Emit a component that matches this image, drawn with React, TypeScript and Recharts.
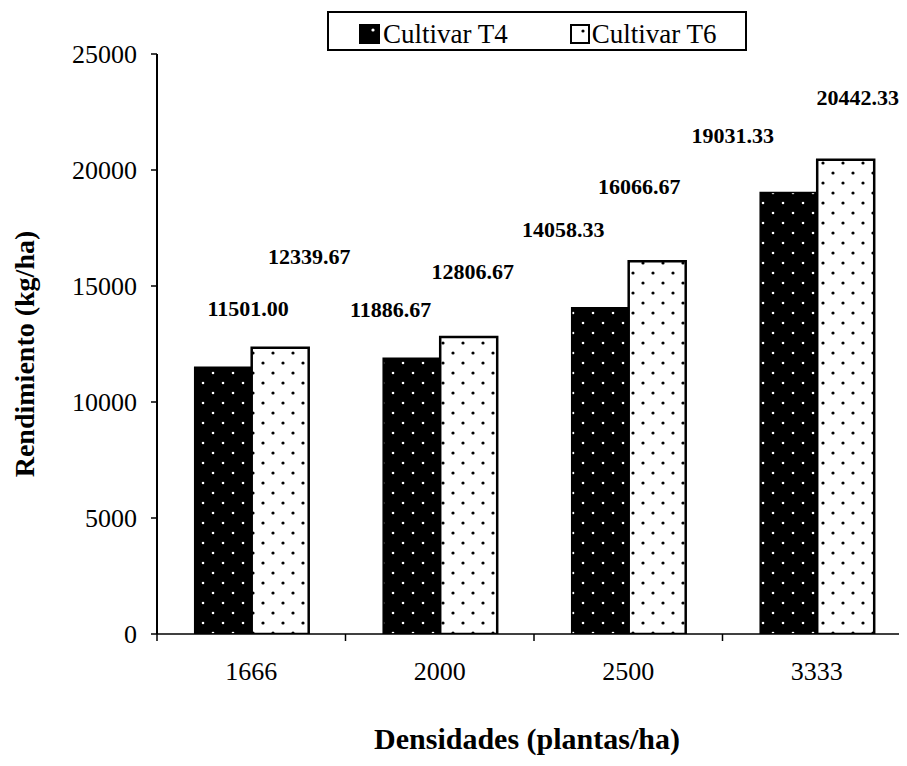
import React from 'react';
import { BarChart, Bar, XAxis, YAxis, Legend, LabelList } from 'recharts';

// Densidades de siembra (plantas/ha) y rendimiento medio (kg/ha)
const densidades = ['1666', '2000', '2500', '3333'];
const cultivarT4 = [11501.0, 11886.67, 14058.33, 19031.33];
const cultivarT6 = [12339.67, 12806.67, 16066.67, 20442.33];
const yTicks = [0, 5000, 10000, 15000, 20000, 25000];
const seriesNames = ['Cultivar T4', 'Cultivar T6'];

// Placement of each value label, relative to the top centre of its bar (px)
const labelShiftT4: [number, number][] = [[25, -59], [-21, -49], [-37, -78], [-56, -57]];
const labelShiftT6: [number, number][] = [[29, -91], [4, -65], [-18, -75], [12, -62]];

const rows = densidades.map((d, i) => ({ densidad: d, t4: cultivarT4[i], t6: cultivarT6[i] }));

const FONT = '"Liberation Serif", "Times New Roman", serif';
const TICK_SIZE = 7;
const TICK_MARGIN = 21;

const makeValueLabel = (shifts: [number, number][]) => (props: any) => {
  const { x, y, width, value, index } = props;
  const [dx, dy] = shifts[index] || [0, -20];
  return (
    <text
      x={Number(x) + Number(width) / 2 + dx}
      y={Number(y) + dy}
      textAnchor="middle"
      dominantBaseline="central"
      fontFamily={FONT}
      fontSize={22}
      fontWeight="bold"
      fill="#000"
    >
      {Number(value).toFixed(2)}
    </text>
  );
};

// Category label with the tick mark drawn on the band's left boundary
const CategoryTick = (props: any) => {
  const { x, y, payload } = props;
  const half = payload && typeof payload.offset === 'number' ? payload.offset : 0;
  const axisY = y - TICK_SIZE - TICK_MARGIN;
  return (
    <g>
      <line x1={x - half} x2={x - half} y1={axisY} y2={axisY + TICK_SIZE} stroke="#000" strokeWidth={1.5} />
      <text x={x} y={y} dy="0.71em" textAnchor="middle" fontFamily={FONT} fontSize={26} fill="#000">
        {payload.value}
      </text>
    </g>
  );
};

const LegendBox = () => (
  <div
    style={{
      boxSizing: 'border-box',
      width: 420,
      height: 40,
      border: '2px solid #000',
      background: '#fff',
      display: 'flex',
      alignItems: 'center',
      paddingLeft: 30,
      paddingTop: 6,
      fontFamily: FONT,
      fontSize: 27,
      color: '#000',
      lineHeight: 1,
    }}
  >
    <svg width={21} height={20} style={{ marginRight: 3 }}>
      <rect x={0.5} y={0.5} width={20} height={19} fill="#000" stroke="#000" />
      <circle cx={14} cy={6} r={1.6} fill="#fff" />
    </svg>
    <span>{seriesNames[0]}</span>
    <svg width={20} height={20} style={{ marginLeft: 62, marginRight: 2 }}>
      <rect x={1} y={1} width={18} height={18} fill="#fff" stroke="#000" strokeWidth={2} />
      <circle cx={13} cy={7} r={1.6} fill="#000" />
    </svg>
    <span>{seriesNames[1]}</span>
  </div>
);

export default function App() {
  return (
    <div style={{ width: 899, height: 750, overflow: 'hidden', background: '#fff' }}>
      <BarChart
        width={910}
        height={750}
        data={rows}
        margin={{ top: 46, right: 7, bottom: 0, left: 0 }}
        barCategoryGap="20%"
        barGap={0}
      >
        <defs>
          <pattern id="dotsDark" patternUnits="userSpaceOnUse" width={20} height={20}>
            <rect width={20} height={20} fill="#000" />
            <circle cx={5} cy={5} r={1.3} fill="#fff" />
            <circle cx={15} cy={15} r={1.3} fill="#fff" />
          </pattern>
          <pattern id="dotsLight" patternUnits="userSpaceOnUse" width={20} height={20}>
            <rect width={20} height={20} fill="#fff" />
            <circle cx={5} cy={5} r={1.6} fill="#000" />
            <circle cx={15} cy={15} r={1.6} fill="#000" />
          </pattern>
        </defs>
        <XAxis
          dataKey="densidad"
          height={124}
          axisLine={{ stroke: '#000', strokeWidth: 1.5 }}
          tickLine={false}
          tickSize={TICK_SIZE}
          tickMargin={TICK_MARGIN}
          tick={<CategoryTick />}
          interval={0}
          label={(p: any) => {
            const vb = p.viewBox || {};
            return (
              <text
                x={vb.x + vb.width / 2 - 7}
                y={vb.y + 104}
                textAnchor="middle"
                dominantBaseline="central"
                fontFamily={FONT}
                fontSize={30}
                fontWeight="bold"
                fill="#000"
              >
                Densidades (plantas/ha)
              </text>
            );
          }}
        />
        <YAxis
          width={149}
          domain={[0, 25000]}
          ticks={yTicks}
          interval={0}
          allowDataOverflow
          axisLine={{ stroke: '#000', strokeWidth: 2 }}
          tickLine={{ stroke: '#000', strokeWidth: 1.5 }}
          tickSize={6}
          tickMargin={14}
          tick={{ fontFamily: FONT, fontSize: 26, fill: '#000' }}
          label={(p: any) => {
            const vb = p.viewBox || {};
            const cx = vb.x + 16;
            const cy = vb.y + vb.height / 2 + 10;
            return (
              <text
                transform={`translate(${cx}, ${cy}) rotate(-90)`}
                textAnchor="middle"
                dominantBaseline="central"
                fontFamily={FONT}
                fontSize={28}
                fontWeight="bold"
                fill="#000"
              >
                Rendimiento (kg/ha)
              </text>
            );
          }}
        />
        <Legend
          layout="horizontal"
          verticalAlign="middle"
          align="center"
          wrapperStyle={{ top: 3, left: 319, width: 420, height: 40 }}
          content={() => <LegendBox />}
        />
        <Bar dataKey="t4" name={seriesNames[0]} fill="url(#dotsDark)" stroke="#000" strokeWidth={1.5} isAnimationActive={false}>
          <LabelList dataKey="t4" content={makeValueLabel(labelShiftT4)} />
        </Bar>
        <Bar dataKey="t6" name={seriesNames[1]} fill="url(#dotsLight)" stroke="#000" strokeWidth={2.5} isAnimationActive={false}>
          <LabelList dataKey="t6" content={makeValueLabel(labelShiftT6)} />
        </Bar>
      </BarChart>
    </div>
  );
}
